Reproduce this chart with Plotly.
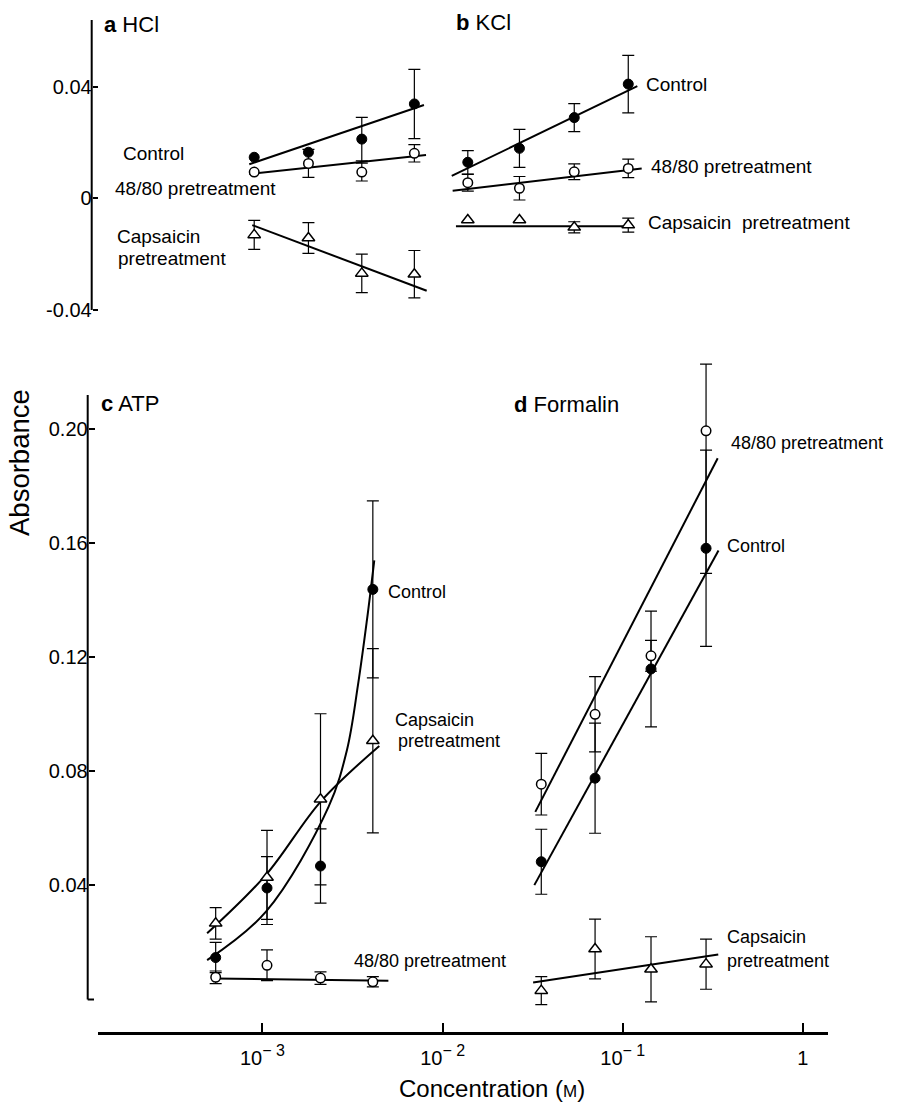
import plotly.graph_objects as go

# ---------------- data ----------------
# a  HCl
hcl_conc = [0.0009, 0.0018, 0.00356, 0.00697]
hcl_control = [0.0147, 0.0165, 0.0212, 0.0338]
hcl_control_err = [0.0, 0.0, 0.0078, 0.0124]
hcl_4880 = [0.0094, 0.0125, 0.0094, 0.0161]
hcl_4880_err = [0.0, 0.005, 0.0032, 0.0031]
hcl_caps = [-0.0131, -0.0142, -0.0269, -0.0272]
hcl_caps_err = [0.0052, 0.0055, 0.0069, 0.0085]
hcl_control_fit_x = [0.000845, 0.00788]
hcl_control_fit_y = [0.0122, 0.0334]
hcl_4880_fit_x = [0.000845, 0.00809]
hcl_4880_fit_y = [0.0087, 0.0155]
hcl_caps_fit_x = [0.000878, 0.00816]
hcl_caps_fit_y = [-0.0096, -0.0331]

# b  KCl
kcl_conc = [0.0138, 0.0267, 0.0538, 0.1073]
kcl_control = [0.0129, 0.0179, 0.0289, 0.0409]
kcl_control_err = [0.0042, 0.0068, 0.005, 0.0103]
kcl_4880 = [0.0056, 0.0036, 0.0095, 0.0107]
kcl_4880_err = [0.003, 0.0042, 0.0028, 0.0033]
kcl_caps = [-0.0078, -0.0078, -0.0104, -0.0096]
kcl_caps_err = [0.0, 0.0, 0.002, 0.0025]
kcl_control_fit_x = [0.01124, 0.1205]
kcl_control_fit_y = [0.008, 0.0402]
kcl_4880_fit_x = [0.01137, 0.1274]
kcl_4880_fit_y = [0.0027, 0.0107]
kcl_caps_fit_x = [0.01186, 0.1107]
kcl_caps_fit_y = [-0.010, -0.010]

# c  ATP
atp_conc = [0.00055, 0.00106, 0.0021, 0.0041]
atp_control = [0.0147, 0.0391, 0.0468, 0.1438]
atp_control_err = [0.0053, 0.011, 0.013, 0.031]
atp_4880 = [0.0078, 0.012, 0.0075, 0.0062]
atp_4880_err = [0.0022, 0.0054, 0.0022, 0.0018]
atp_caps = [0.0267, 0.0428, 0.0702, 0.0907]
atp_caps_err = [0.0055, 0.0165, 0.030, 0.0323]
atp_control_fit_x = [0.000493, 0.001046, 0.00233, 0.002945, 0.003391, 0.003803, 0.004176]
atp_control_fit_y = [0.0138, 0.0308, 0.0676, 0.0875, 0.1103, 0.1331, 0.1540]
atp_caps_fit_x = [0.000493, 0.001046, 0.002105, 0.004452]
atp_caps_fit_y = [0.0232, 0.0437, 0.0694, 0.0889]
atp_4880_fit_x = [0.00054, 0.0050]
atp_4880_fit_y = [0.0074, 0.0066]

# d  Formalin
form_conc = [0.0353, 0.0702, 0.1435, 0.29]
form_control = [0.0483, 0.0776, 0.1159, 0.1582]
form_control_err = [0.0114, 0.0193, 0.0203, 0.0344]
form_4880 = [0.0755, 0.1000, 0.1205, 0.1994]
form_4880_err_plus = [0.0108, 0.0132, 0.0054, 0.0234]
form_4880_err_minus = [0.0108, 0.0132, 0.0054, 0.0500]
form_caps = [0.0031, 0.0177, 0.0106, 0.0124]
form_caps_err = [0.0049, 0.0105, 0.0114, 0.0088]
form_control_fit_x = [0.0323, 0.34]
form_control_fit_y = [0.0401, 0.1574]
form_4880_fit_x = [0.0327, 0.3366]
form_4880_fit_y = [0.0658, 0.1898]
form_caps_fit_x = [0.0318, 0.339]
form_caps_fit_y = [0.0060, 0.0158]

x_tick_vals = [0.001, 0.01, 0.1, 1]
x_tick_text = ["10<sup><span style='font-size:16px'>− 3</span></sup>",
               "10<sup><span style='font-size:16px'>− 2</span></sup>",
               "10<sup><span style='font-size:16px'>− 1</span></sup>", "1"]
y_bottom_ticks = [0.04, 0.08, 0.12, 0.16, 0.20]
y_bottom_text = ["0.04", "0.08", "0.12", "0.16", "0.20"]
y_top_ticks = [-0.04, 0, 0.04]
y_top_text = ["-0.04", "0", "0.04"]

# ---------------- layout helpers ----------------
W, H = 900, 1108
FONT = "Liberation Sans, Arial, Helvetica, sans-serif"


def px(x):
    return x / W


def py(y):
    return 1 - y / H


# log-axis calibration (pixel of 10^0 and pixels per decade)
X_PX_AT_1 = 802.9
X_PX_PER_DEC = 180.15
X_DOM = (98, 828)
x_range = [(X_DOM[0] - X_PX_AT_1) / X_PX_PER_DEC, (X_DOM[1] - X_PX_AT_1) / X_PX_PER_DEC]

# bottom panels y calibration
YB_ZERO = 999.5
YB_PER_UNIT = 2852
YB_DOM = (355, 1032)
yb_range = [(YB_ZERO - YB_DOM[1]) / YB_PER_UNIT, (YB_ZERO - YB_DOM[0]) / YB_PER_UNIT]

# top panels y calibration
YT_ZERO = 198.3
YT_PER_UNIT = 2792
YT_DOM = (12, 320)
yt_range = [(YT_ZERO - YT_DOM[1]) / YT_PER_UNIT, (YT_ZERO - YT_DOM[0]) / YT_PER_UNIT]

fig = go.Figure()

MARK = {
    "control": dict(symbol="circle", size=10, color="black", line=dict(color="black", width=1)),
    "4880": dict(symbol="circle", size=9.5, color="white", line=dict(color="black", width=1.5)),
    "caps": dict(symbol="triangle-up", size=11, color="white", line=dict(color="black", width=1.5)),
}


def add_fit(x, y, xa, ya, shape="linear"):
    fig.add_trace(go.Scatter(x=x, y=y, mode="lines", xaxis=xa, yaxis=ya,
                             line=dict(color="black", width=2, shape=shape, smoothing=1.0),
                             hoverinfo="skip"))


def add_points(x, y, err_p, err_m, kind, xa, ya):
    keep = [i for i in range(len(x)) if err_p[i] > 0 or err_m[i] > 0]
    if keep:
        fig.add_trace(go.Scatter(
            x=[x[i] for i in keep], y=[y[i] for i in keep], mode="markers",
            xaxis=xa, yaxis=ya, marker=dict(size=1, color="rgba(0,0,0,0)"),
            error_y=dict(type="data", array=[err_p[i] for i in keep],
                         arrayminus=[err_m[i] for i in keep], symmetric=False,
                         color="black", thickness=1.2, width=6),
            cliponaxis=False, hoverinfo="skip"))
    fig.add_trace(go.Scatter(x=x, y=y, mode="markers", xaxis=xa, yaxis=ya,
                             marker=MARK[kind], cliponaxis=False))


# a HCl (top axes)
add_fit(hcl_control_fit_x, hcl_control_fit_y, "x2", "y2")
add_fit(hcl_4880_fit_x, hcl_4880_fit_y, "x2", "y2")
add_fit(hcl_caps_fit_x, hcl_caps_fit_y, "x2", "y2")
add_points(hcl_conc, hcl_control, hcl_control_err, hcl_control_err, "control", "x2", "y2")
add_points(hcl_conc, hcl_4880, hcl_4880_err, hcl_4880_err, "4880", "x2", "y2")
add_points(hcl_conc, hcl_caps, hcl_caps_err, hcl_caps_err, "caps", "x2", "y2")

# b KCl (top axes)
add_fit(kcl_control_fit_x, kcl_control_fit_y, "x2", "y2")
add_fit(kcl_4880_fit_x, kcl_4880_fit_y, "x2", "y2")
add_fit(kcl_caps_fit_x, kcl_caps_fit_y, "x2", "y2")
add_points(kcl_conc, kcl_control, kcl_control_err, kcl_control_err, "control", "x2", "y2")
add_points(kcl_conc, kcl_4880, kcl_4880_err, kcl_4880_err, "4880", "x2", "y2")
add_points(kcl_conc, kcl_caps, kcl_caps_err, kcl_caps_err, "caps", "x2", "y2")

# c ATP (bottom axes)
add_fit(atp_control_fit_x, atp_control_fit_y, "x", "y", "spline")
add_fit(atp_caps_fit_x, atp_caps_fit_y, "x", "y", "spline")
add_fit(atp_4880_fit_x, atp_4880_fit_y, "x", "y")
add_points(atp_conc, atp_control, atp_control_err, atp_control_err, "control", "x", "y")
add_points(atp_conc, atp_4880, atp_4880_err, atp_4880_err, "4880", "x", "y")
add_points(atp_conc, atp_caps, atp_caps_err, atp_caps_err, "caps", "x", "y")

# d Formalin (bottom axes)
add_fit(form_control_fit_x, form_control_fit_y, "x", "y")
add_fit(form_4880_fit_x, form_4880_fit_y, "x", "y")
add_fit(form_caps_fit_x, form_caps_fit_y, "x", "y")
add_points(form_conc, form_control, form_control_err, form_control_err, "control", "x", "y")
add_points(form_conc, form_4880, form_4880_err_plus, form_4880_err_minus, "4880", "x", "y")
add_points(form_conc, form_caps, form_caps_err, form_caps_err, "caps", "x", "y")

# ---------------- annotations ----------------
labels = [
    ("<b>a</b> HCl", 102, 25, 22),
    ("<b>b</b> KCl", 454, 23, 22),
    ("<b>c</b> ATP", 99, 403, 22),
    ("<b>d</b> Formalin", 512, 404, 22),
    ("Control", 121, 154, 19),
    ("48/80 pretreatment", 113, 189, 19),
    ("Capsaicin", 115, 236, 19),
    ("pretreatment", 116, 258, 19),
    ("Control", 644, 85, 19),
    ("48/80 pretreatment", 649, 166, 19),
    ("Capsaicin  pretreatment", 646, 223, 19),
    ("Control", 386, 592, 18),
    ("Capsaicin", 393, 720, 18),
    ("pretreatment", 396, 741, 18),
    ("48/80 pretreatment", 352, 961, 18),
    ("48/80 pretreatment", 729, 443, 18),
    ("Control", 725, 546, 18),
    ("Capsaicin", 725, 937, 18),
    ("pretreatment", 725, 961, 18),
]
annotations = []
for text, lx, ly, size in labels:
    annotations.append(dict(text=text, x=px(lx), y=py(ly), xref="paper", yref="paper",
                            xanchor="left", yanchor="middle", showarrow=False,
                            font=dict(family=FONT, size=size, color="black")))
annotations.append(dict(text="Absorbance", x=px(20), y=py(463), xref="paper", yref="paper",
                        xanchor="center", yanchor="middle", showarrow=False, textangle=-90,
                        font=dict(family=FONT, size=27.5, color="black")))
annotations.append(dict(text="Concentration (<span style='font-size:17px'>M</span>)",
                        x=px(492), y=py(1088), xref="paper", yref="paper",
                        xanchor="center", yanchor="middle", showarrow=False,
                        font=dict(family=FONT, size=24, color="black")))

shapes = [
    dict(type="line", xref="paper", yref="y", x0=px(87.7), x1=px(87.7), y0=0, y1=0.212,
         line=dict(color="black", width=2)),
    dict(type="line", xref="paper", yref="y", x0=px(87.7), x1=px(94), y0=0, y1=0,
         line=dict(color="black", width=2)),
    dict(type="line", xref="paper", yref="y2", x0=px(91.7), x1=px(91.7), y0=-0.04, y1=0.0639,
         line=dict(color="black", width=2)),
]

fig.update_layout(
    width=W, height=H, margin=dict(l=0, r=0, t=0, b=0),
    paper_bgcolor="white", plot_bgcolor="white", showlegend=False,
    font=dict(family=FONT, color="black"),
    annotations=annotations, shapes=shapes,
    xaxis=dict(domain=[px(X_DOM[0]), px(X_DOM[1])], type="log", range=x_range, anchor="y",
               showline=True, linecolor="black", linewidth=2.5, ticks="inside", ticklen=9,
               tickwidth=2, tickcolor="black", tickvals=x_tick_vals, ticktext=x_tick_text,
               ticklabelstandoff=6,
               tickfont=dict(family=FONT, size=20, color="black"), showgrid=False,
               zeroline=False),
    yaxis=dict(domain=[py(YB_DOM[1]), py(YB_DOM[0])], range=yb_range, anchor="free",
               position=px(87.7), showline=False, ticks="inside", ticklen=6, tickwidth=1.5,
               tickcolor="black", tickvals=y_bottom_ticks, ticktext=y_bottom_text,
               tickfont=dict(family=FONT, size=20, color="black"), showgrid=False,
               zeroline=False),
    xaxis2=dict(domain=[px(X_DOM[0]), px(X_DOM[1])], type="log", range=x_range, anchor="y2",
                visible=False),
    yaxis2=dict(domain=[py(YT_DOM[1]), py(YT_DOM[0])], range=yt_range, anchor="free",
                position=px(91.7), showline=False, ticks="inside", ticklen=5, tickwidth=1.5,
                tickcolor="black", tickvals=y_top_ticks, ticktext=y_top_text,
                tickfont=dict(family=FONT, size=20, color="black"), showgrid=False,
                zeroline=False),
)

fig.write_html("out.html", config={"displayModeBar": False},
               post_script="document.body.style.margin='0';")
